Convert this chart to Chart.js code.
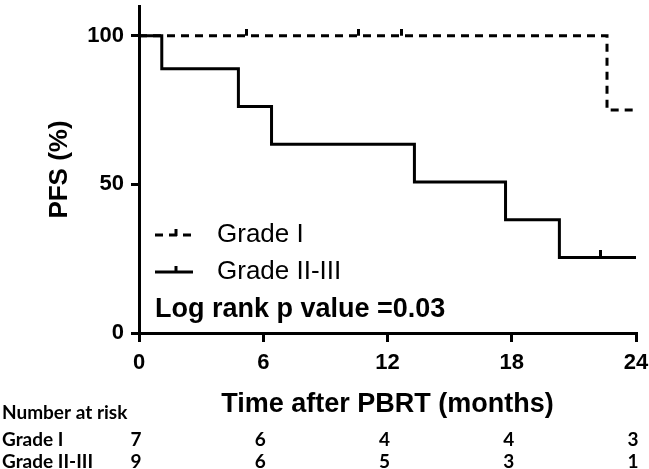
<!DOCTYPE html>
<html>
<head>
<meta charset="utf-8">
<script src="https://cdn.jsdelivr.net/npm/chart.js@4"></script>
<style>
  html, body { margin: 0; padding: 0; background: #fff; }
  canvas { display: block; }
</style>
</head>
<body>
<canvas id="kmChart" width="649" height="469"></canvas>
<script>
// Kaplan-Meier steps (months, PFS %)
const gradeITimes = [0, 22.6, 24];
const gradeIPfs = [100, 75, 75];
const gradeICensorTimes = [5.2, 10.6, 12.7];
const gradeICensorPfs = [100, 100, 100];

const gradeIITimes = [0, 1.1, 4.8, 6.4, 13.3, 17.7, 20.3, 24];
const gradeIIPfs = [100, 88.9, 76.2, 63.5, 50.8, 38.1, 25.4, 25.4];
const gradeIICensorTimes = [22.3];
const gradeIICensorPfs = [25.4];

const xTicks = [0, 6, 12, 18, 24];
const yTicks = [0, 50, 100];

// Number at risk table under the axis
const riskTimes = [0, 6, 12, 18, 24];
const riskGradeI = [7, 6, 4, 4, 3];
const riskGradeII = [9, 6, 5, 3, 1];

const FONT = "'Liberation Sans', Arial, sans-serif";
const TABLE_FONT = "Lato, 'Open Sans', sans-serif";

function toPoints(xs, ys) {
  return xs.map((x, i) => ({ x: x, y: ys[i] }));
}

// Censor mark: a short vertical tick sticking up from the curve
function censorMark() {
  const c = document.createElement("canvas");
  c.width = 3;
  c.height = 14;
  const g = c.getContext("2d");
  g.fillStyle = "#000";
  g.fillRect(0, 0, 3, 7);
  return c;
}
const tick = censorMark();

// Legend, p value and the risk table are drawn by hand
const overlayPlugin = {
  id: "overlay",
  afterDraw(chart) {
    const { ctx } = chart;
    const xs = chart.scales.x;
    ctx.save();
    ctx.strokeStyle = "#000";
    ctx.fillStyle = "#000";
    ctx.lineWidth = 3;

    // legend symbols
    ctx.setLineDash([8, 6]);
    ctx.beginPath();
    ctx.moveTo(155, 235);
    ctx.lineTo(195, 235);
    ctx.stroke();
    ctx.setLineDash([]);
    ctx.beginPath();
    ctx.moveTo(176, 236);
    ctx.lineTo(176, 229);
    ctx.stroke();

    ctx.beginPath();
    ctx.moveTo(155, 272);
    ctx.lineTo(193, 272);
    ctx.stroke();
    ctx.beginPath();
    ctx.moveTo(176, 272);
    ctx.lineTo(176, 266);
    ctx.stroke();

    ctx.textBaseline = "middle";
    ctx.textAlign = "left";
    ctx.font = "26px " + FONT;
    ctx.fillText("Grade I", 217, 235);
    ctx.fillText("Grade II-III", 217, 272);
    ctx.font = "bold 27px " + FONT;
    ctx.fillText("Log rank p value =0.03", 155, 310);

    // number at risk
    ctx.font = "bold 19px " + TABLE_FONT;
    ctx.fillText("Number at risk", 2, 413);
    ctx.fillText("Grade I", 2, 440);
    ctx.fillText("Grade II-III", 2, 462);
    ctx.textAlign = "center";
    riskTimes.forEach((t, i) => {
      const px = xs.getPixelForValue(t) - 3;
      ctx.fillText(String(riskGradeI[i]), px, 440);
      ctx.fillText(String(riskGradeII[i]), px, 462);
    });
    ctx.restore();
  },
};

const ctx = document.getElementById("kmChart").getContext("2d");
new Chart(ctx, {
  type: "line",
  data: {
    datasets: [
      {
        label: "Grade II-III",
        data: toPoints(gradeIITimes, gradeIIPfs),
        stepped: true,
        borderColor: "#000",
        borderWidth: 3,
        pointRadius: 0,
        fill: false,
      },
      {
        label: "Grade I",
        data: toPoints(gradeITimes, gradeIPfs),
        stepped: true,
        borderColor: "#000",
        borderWidth: 3,
        borderDash: [8, 6],
        pointRadius: 0,
        fill: false,
      },
      {
        label: "Grade I censored",
        data: toPoints(gradeICensorTimes, gradeICensorPfs),
        showLine: false,
        pointStyle: tick,
        pointRadius: 5,
      },
      {
        label: "Grade II-III censored",
        data: toPoints(gradeIICensorTimes, gradeIICensorPfs),
        showLine: false,
        pointStyle: tick,
        pointRadius: 5,
      },
    ],
  },
  options: {
    responsive: false,
    animation: false,
    devicePixelRatio: 1,
    layout: { padding: { top: -5, right: 13, bottom: 0, left: 0 } },
    plugins: {
      legend: { display: false },
      tooltip: { enabled: false },
    },
    scales: {
      x: {
        type: "linear",
        min: 0,
        max: 24,
        afterBuildTicks: (s) => { s.ticks = xTicks.map((v) => ({ value: v })); },
        afterFit: (s) => {
          s.height = 136;
          s.paddingLeft = 0;
          s.paddingRight = 0;
        },
        border: { display: true, color: "#000", width: 3 },
        grid: { drawOnChartArea: false, drawTicks: true, tickLength: 9, color: "#000", lineWidth: 3 },
        ticks: { color: "#000", font: { family: FONT, size: 22, weight: "bold" }, padding: 8, maxRotation: 0 },
        title: {
          display: true,
          text: "Time after PBRT (months)",
          color: "#000",
          font: { family: FONT, size: 27, weight: "bold" },
          padding: { top: 0, bottom: 48 },
        },
      },
      y: {
        type: "linear",
        min: 0,
        max: 110,
        afterBuildTicks: (s) => { s.ticks = yTicks.map((v) => ({ value: v })); },
        afterFit: (s) => {
          s.width = 139;
          s.paddingTop = 0;
          s.paddingBottom = 0;
        },
        border: { display: true, color: "#000", width: 3 },
        grid: { drawOnChartArea: false, drawTicks: true, tickLength: 8, color: "#000", lineWidth: 3 },
        ticks: { color: "#000", font: { family: FONT, size: 22, weight: "bold" }, padding: 7 },
        title: {
          display: true,
          text: "PFS (%)",
          color: "#000",
          font: { family: FONT, size: 26, weight: "bold" },
          padding: { top: 44, bottom: 0 },
        },
      },
    },
  },
  plugins: [overlayPlugin],
});
</script>
</body>
</html>
